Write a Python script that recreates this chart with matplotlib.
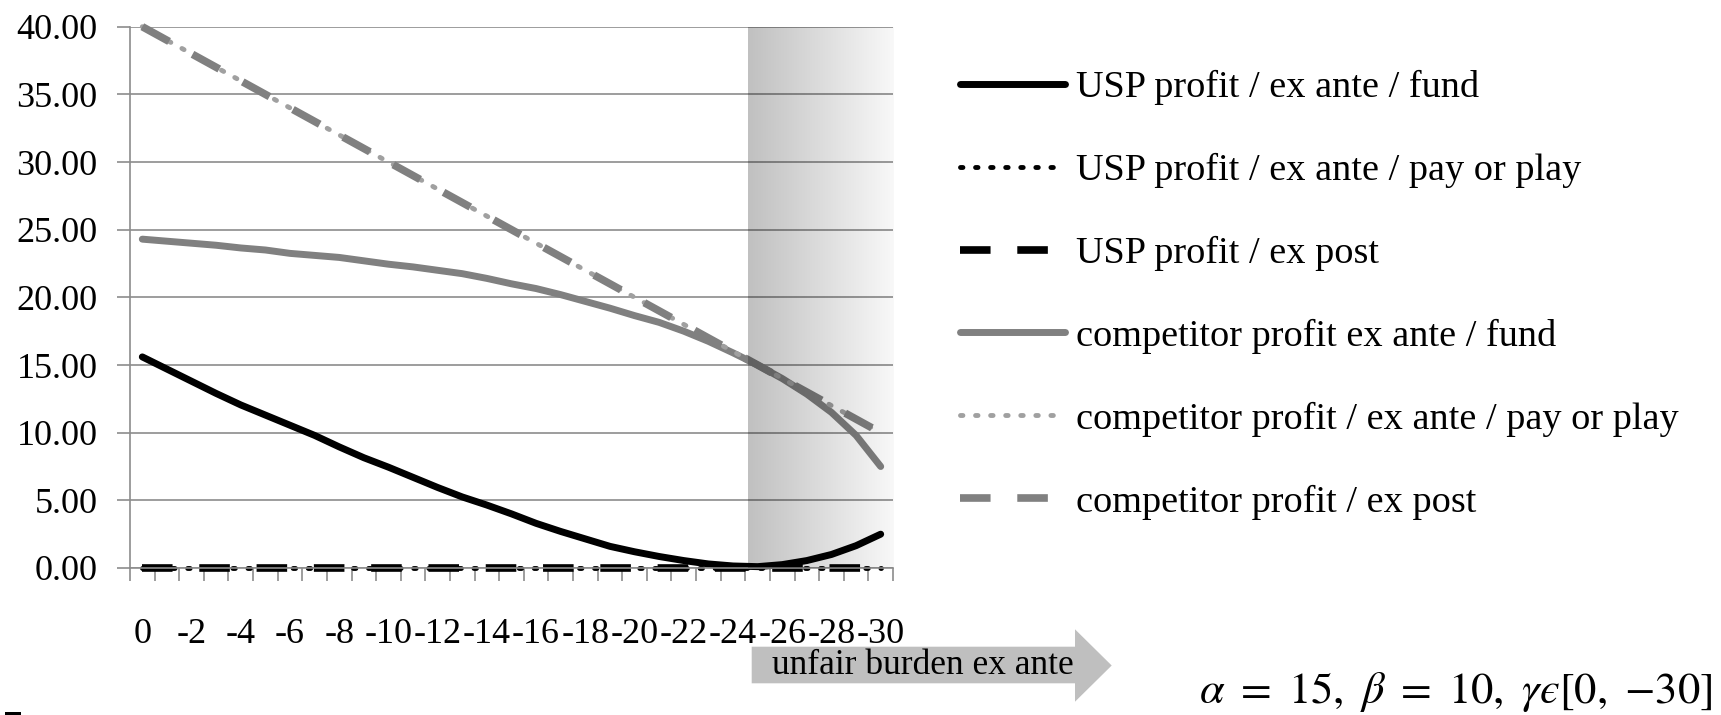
import numpy as np
import matplotlib
matplotlib.use("Agg")
import matplotlib.pyplot as plt
from matplotlib.patches import Polygon, Rectangle

plt.rcParams["font.family"] = ["Liberation Serif", "DejaVu Serif"]
plt.rcParams["mathtext.fontset"] = "stix"

# gamma from 0 down to -30
gamma = [0, -1, -2, -3, -4, -5, -6, -7, -8, -9, -10, -11, -12, -13, -14, -15,
         -16, -17, -18, -19, -20, -21, -22, -23, -24, -25, -26, -27, -28, -29, -30]

usp_fund = [15.6, 14.7, 13.8, 12.9, 12.05, 11.3, 10.55, 9.8, 8.95, 8.15, 7.45,
            6.7, 5.95, 5.25, 4.65, 4.0, 3.3, 2.7, 2.15, 1.6, 1.2, 0.85, 0.55,
            0.3, 0.15, 0.1, 0.25, 0.55, 1.0, 1.65, 2.5]
usp_pay = [0, 0, 0, 0, 0, 0, 0, 0, 0, 0, 0, 0, 0, 0, 0, 0,
           0, 0, 0, 0, 0, 0, 0, 0, 0, 0, 0, 0, 0, 0, 0]
usp_post = [0, 0, 0, 0, 0, 0, 0, 0, 0, 0, 0, 0, 0, 0, 0, 0,
            0, 0, 0, 0, 0, 0, 0, 0, 0, 0, 0, 0, 0, 0, 0]
comp_fund = [24.3, 24.15, 24.0, 23.85, 23.65, 23.5, 23.25, 23.1, 22.95, 22.7,
             22.45, 22.25, 22.0, 21.75, 21.4, 21.0, 20.65, 20.2, 19.7, 19.2,
             18.65, 18.15, 17.5, 16.75, 15.9, 15.0, 14.0, 12.85, 11.5, 9.8, 7.5]
comp_pay = [40, 39, 38, 37, 36, 35, 34, 33, 32, 31, 30, 29, 28, 27, 26, 25,
            24, 23, 22, 21, 20, 19, 18, 17, 16, 15, 14, 13, 12, 11, 10]
comp_post = [40, 39, 38, 37, 36, 35, 34, 33, 32, 31, 30, 29, 28, 27, 26, 25,
             24, 23, 22, 21, 20, 19, 18, 17, 16, 15, 14, 13, 12, 11, 10]

labels = ["USP profit / ex ante / fund",
          "USP profit / ex ante / pay or play",
          "USP profit / ex post",
          "competitor profit ex ante / fund",
          "competitor profit / ex ante / pay or play",
          "competitor profit / ex post"]

W, H = 1721, 715
fig = plt.figure(figsize=(W / 100, H / 100), dpi=100)
ax = fig.add_axes([130 / W, 1 - 568 / H, (893 - 130) / W, (568 - 26.7) / H])

x = np.arange(len(gamma))
grey = "#808080"
h1, = ax.plot(x, usp_fund, color="black", lw=5, solid_capstyle="round", clip_on=False)
h2, = ax.plot(x, usp_pay, color="black", lw=3.5, dashes=(0.5, 2.6), dash_capstyle="round", clip_on=False)
h3, = ax.plot(x, usp_post, color="black", lw=5.5, dashes=(4, 3.5), clip_on=False)
h4, = ax.plot(x, comp_fund, color=grey, lw=5, solid_capstyle="round", clip_on=False)
h5, = ax.plot(x, comp_pay, color="#a0a0a0", lw=3.5, dashes=(0.5, 2.6), dash_capstyle="round", clip_on=False)
h6, = ax.plot(x, comp_post, color=grey, lw=5.5, dashes=(4, 3.5), clip_on=False)

# shaded zone of unfair burden, darkening overlay fading to the right
t = np.linspace(0, 1, 256)
rgba = np.zeros((1, 256, 4))
rgba[..., 3] = 0.25 - 0.22 * t
ax.imshow(rgba, extent=[24.6, 30.5, 0, 40], aspect="auto", zorder=3, interpolation="bilinear")

ax.set_xlim(-0.5, 30.5)
ax.set_ylim(0, 40)
ax.set_yticks(np.arange(0, 41, 5))
ax.set_yticklabels(["%.2f" % v for v in np.arange(0, 41, 5)])
ax.set_xticks(x[::2])
ax.set_xticklabels([str(g) for g in gamma[::2]])
ax.set_xticks(np.arange(-0.5, 31, 1), minor=True)
ax.grid(axis="y", color="#8c8c8c", lw=1.2, zorder=0)
ax.set_axisbelow(True)
for s in ["top", "right"]:
    ax.spines[s].set_visible(False)
for s in ["left", "bottom"]:
    ax.spines[s].set_color("#8c8c8c")
    ax.spines[s].set_linewidth(1.2)
ax.tick_params(axis="y", length=9.4, width=1.2, color="#8c8c8c", labelsize=26, pad=14)
ax.tick_params(axis="x", which="major", length=0, labelsize=26, pad=36)
ax.tick_params(axis="x", which="minor", length=9.4, width=1.2, color="#8c8c8c")

fig.legend([h1, h2, h3, h4, h5, h6], labels, loc="upper left",
           bbox_to_anchor=(960 / W, 1 - 70 / H), frameon=False, fontsize=27.5,
           handlelength=2.75, handletextpad=0.3, labelspacing=1.25,
           borderpad=0, borderaxespad=0)

# arrow under the x axis
arrow = [(751.7, 646.7), (1075, 646.7), (1075, 629.3), (1111.7, 665.5),
         (1075, 701.7), (1075, 683.3), (751.7, 683.3)]
fig.add_artist(Polygon([(px / W, 1 - py / H) for px, py in arrow], closed=True,
                       facecolor="#bfbfbf", edgecolor="none", transform=fig.transFigure))
fig.text(772 / W, 1 - 665 / H, "unfair burden ex ante", fontsize=25.5, ha="left", va="center")

fig.text(1712 / W, 1 - 692 / H,
         "$\\alpha\\ =\\ 15,\\ \\beta\\ =\\ 10,\\ \\gamma\u03f5[0,\\ {-}30]$",
         fontsize=32, ha="right", va="center")

fig.add_artist(Rectangle((5 / W, 0), 16 / W, 3.5 / H, facecolor="black",
                         edgecolor="none", transform=fig.transFigure))

fig.savefig("out.png", dpi=100)
